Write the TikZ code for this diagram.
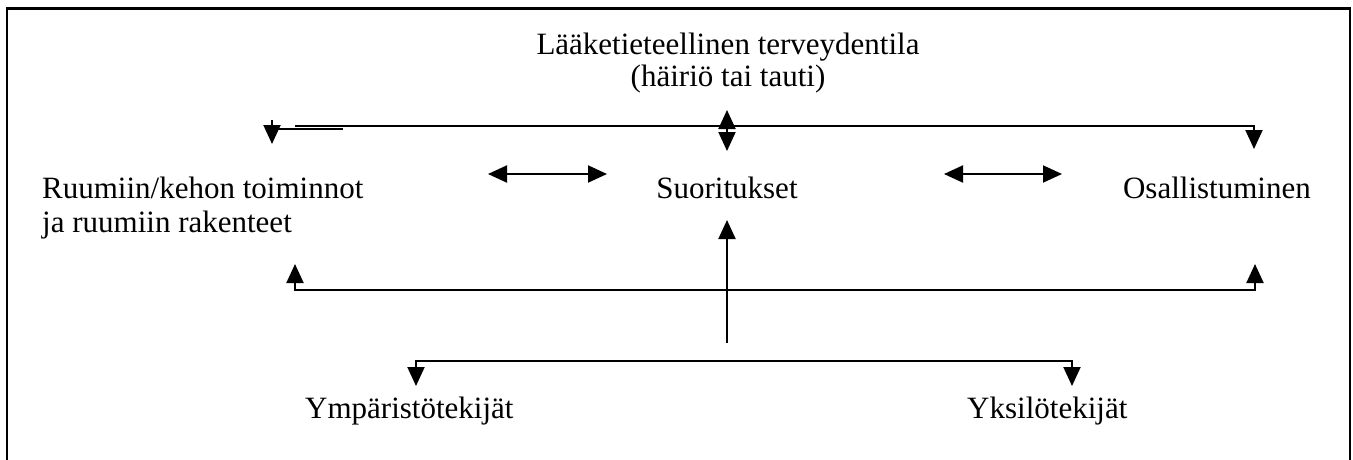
\documentclass[tikz,border=0pt]{standalone}
\usepackage{fontspec}
\setmainfont{Liberation Serif}
\usetikzlibrary{arrows.meta}
\begin{document}
\begin{tikzpicture}[x=1pt,y=-1pt,
  lbl/.style={inner sep=0pt,font=\fontsize{31}{32}\selectfont},
  conn/.style={line width=2pt},
  tip/.style={Triangle[length=19pt,width=17pt]},
  arr/.style={conn,-{Triangle[length=19pt,width=17pt]}},
  darr/.style={conn,{Triangle[length=19pt,width=17pt]}-{Triangle[length=19pt,width=17pt]}}]
\useasboundingbox (0,0) rectangle (1353,459);
% frame
\draw[line width=2.2pt] (7,470) -- (7,8.5) -- (1350,8.5) -- (1350,470);
% texts
\node[lbl,anchor=base] (med1) at (728,54) {Lääketieteellinen terveydentila};
\node[lbl,anchor=base] (med2) at (728,86) {(häiriö tai tauti)};
\node[lbl,anchor=base west] (body1) at (42,198) {Ruumiin/kehon toiminnot};
\node[lbl,anchor=base west] (body2) at (42,232) {ja ruumiin rakenteet};
\node[lbl,anchor=base] (act) at (727,198) {Suoritukset};
\node[lbl,anchor=base east] (part) at (1311,198) {Osallistuminen};
\node[lbl,anchor=base west] (env) at (305,418) {Ympäristötekijät};
\node[lbl,anchor=base west] (pers) at (967,418) {Yksilötekijät};
% coordinates
\coordinate (tl) at (272,120);
\coordinate (tla) at (272,144);
\coordinate (tr) at (1254,126);
\coordinate (tra) at (1254,149);
\coordinate (tm1) at (727,110);
\coordinate (tm2) at (727,151);
\coordinate (la) at (488,174);
\coordinate (lb) at (607,174);
\coordinate (ra) at (944,174);
\coordinate (rb) at (1062,174);
\coordinate (bl) at (295,264);
\coordinate (br) at (1255,264);
\coordinate (bc) at (727,343);
\coordinate (bct) at (727,220);
\coordinate (ll) at (416,386);
\coordinate (lr) at (1072,386);
% top bar
\draw[arr] (295,125.5) -| (tra);
\draw[arr] (tl) -- (tla);
\draw[conn] (272,128.5) -- (343,128.5);
\draw[darr] (tm1) -- (tm2);
% horizontal double arrows
\draw[darr] (la) -- (lb);
\draw[darr] (ra) -- (rb);
% bottom bar
\draw[arr] (727,290) -| (bl);
\draw[arr] (727,290) -| (br);
\draw[arr] (bc) -- (bct);
% lower branch
\draw[arr] (727,361) -| (ll);
\draw[arr] (727,361) -| (lr);
\end{tikzpicture}
\end{document}
